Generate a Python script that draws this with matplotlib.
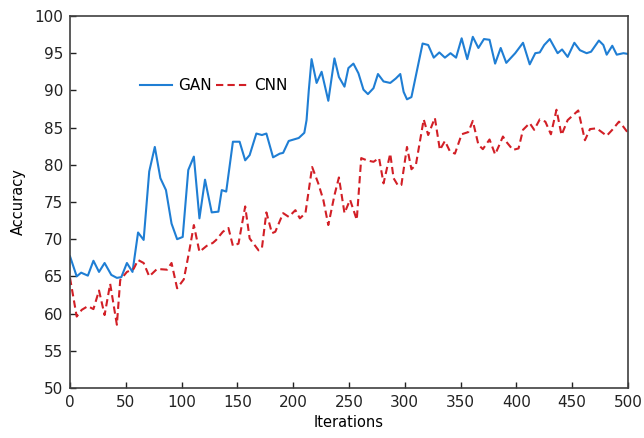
import matplotlib
matplotlib.use('Agg')
import matplotlib.pyplot as plt

# GAN accuracy
gan_iter = [0, 6, 10, 16, 21, 26, 31, 37, 42, 46, 51, 56, 61, 66, 71, 76, 81, 86, 91, 96,
            101, 106, 111, 116, 121, 127, 133, 136, 140, 146, 152, 157, 161, 167, 172, 176,
            182, 188, 191, 196, 205, 210, 212, 214, 216.5, 221, 225.5, 231.5, 237, 241, 246,
            249.5, 254, 258.5, 263, 267, 272, 276, 281, 287, 292, 296, 299, 302, 306, 311,
            316, 321, 326, 331, 336, 341, 346, 351, 356, 361, 366, 371, 376, 381, 386, 391,
            399, 406, 412, 417, 421, 425, 430, 437, 441, 446, 452, 457, 463, 467, 474, 478,
            481, 486, 490, 496, 500]
gan_acc = [67.7, 65.0, 65.5, 65.1, 67.1, 65.6, 66.8, 65.2, 64.8, 64.9, 66.8, 65.6, 70.9, 69.9,
           79.1, 82.4, 78.2, 76.6, 72.1, 70.0, 70.3, 79.3, 81.1, 72.8, 78.0, 73.6, 73.7, 76.6,
           76.4, 83.1, 83.1, 80.6, 81.3, 84.2, 84.0, 84.2, 81.0, 81.5, 81.6, 83.2, 83.6, 84.3,
           86.0, 90.0, 94.2, 91.0, 92.5, 88.6, 94.3, 91.8, 90.5, 93.0, 93.6, 92.3, 90.1, 89.5,
           90.3, 92.2, 91.2, 91.0, 91.6, 92.2, 89.8, 88.8, 89.1, 92.7, 96.3, 96.1, 94.4, 95.1,
           94.4, 95.0, 94.4, 97.0, 94.2, 97.2, 95.7, 96.9, 96.8, 93.6, 95.7, 93.7, 95.0, 96.4,
           93.5, 95.0, 95.1, 96.1, 96.9, 95.0, 95.5, 94.5, 96.4, 95.4, 95.0, 95.2, 96.7, 96.1,
           94.8, 96.0, 94.8, 95.0, 94.9]

# CNN accuracy
cnn_iter = [0, 6, 10.5, 16, 21, 26, 31, 36, 42, 45, 51, 57, 61, 66, 71, 78, 87, 91, 96, 102,
            107, 111, 116, 122.5, 128, 131, 137, 142, 146, 151, 157, 161, 169, 172, 176, 181,
            184, 191, 196, 202, 206, 211, 217, 222.5, 227, 231.5, 237, 241, 246, 251, 257, 261,
            266, 272, 277, 281, 287, 290, 294, 297, 302, 306, 310, 317, 321, 327, 331.5, 336,
            340.5, 345, 351, 357, 361, 366, 370, 376, 381, 384, 388, 391, 397, 402, 406, 412,
            416, 421, 426, 431, 436, 440.5, 446, 455.5, 461.5, 466, 472, 481, 486, 492, 496, 500]
cnn_acc = [64.8, 59.6, 60.5, 61.0, 60.6, 63.1, 59.8, 64.0, 58.5, 64.5, 65.6, 66.0, 67.2, 66.8,
           65.0, 66.0, 65.9, 66.8, 63.4, 64.6, 68.5, 71.9, 68.3, 69.1, 69.5, 69.9, 71.0, 71.5,
           69.1, 69.4, 74.4, 70.1, 68.5, 68.8, 73.6, 70.8, 71.0, 73.5, 73.0, 73.9, 72.8, 73.5,
           79.7, 77.5, 75.3, 71.9, 75.9, 78.3, 73.5, 75.3, 72.6, 80.9, 80.6, 80.4, 80.9, 77.5,
           81.5, 78.2, 77.2, 77.3, 82.4, 79.4, 80.0, 86.1, 84.0, 86.3, 82.0, 83.2, 81.8, 81.5,
           84.1, 84.4, 85.9, 82.7, 82.1, 83.4, 81.4, 82.4, 83.8, 83.1, 82.0, 82.2, 84.7, 85.6,
           84.7, 86.1, 85.8, 84.1, 87.4, 84.0, 86.0, 87.3, 83.3, 84.8, 84.9, 83.9, 84.7, 85.8,
           85.1, 84.3]

x_ticks = list(range(0, 501, 50))
y_ticks = list(range(50, 101, 5))

plt.rcParams['font.family'] = 'DejaVu Sans'
fig = plt.figure(figsize=(6.44, 4.38), dpi=100)
ax = fig.add_axes([0.1087, 0.1142, 0.8663, 0.8493])

ax.plot(gan_iter, gan_acc, color='#1f7ed4', lw=1.5, label='GAN')
ax.plot(cnn_iter, cnn_acc, color='#d21f26', lw=1.5, ls=(0, (3.5, 2.0)), label='CNN')

ax.set_xlim(0, 500)
ax.set_ylim(50, 100)
ax.set_xticks(x_ticks)
ax.set_yticks(y_ticks)
ax.tick_params(direction='in', length=4, width=1, colors='#222222', labelsize=11, pad=5)
for s in ax.spines.values():
    s.set_color('#404040')
    s.set_linewidth(1.2)

ax.set_xlabel('Iterations', fontsize=10.5, labelpad=4)
ax.set_ylabel('Accuracy', fontsize=10.5, labelpad=6)

ax.legend(loc='upper left', bbox_to_anchor=(0.1, 0.87), ncol=2, frameon=False,
          fontsize=11, handlelength=2.1, handletextpad=0.4, columnspacing=0.3)

plt.savefig('out.png', dpi=100)
